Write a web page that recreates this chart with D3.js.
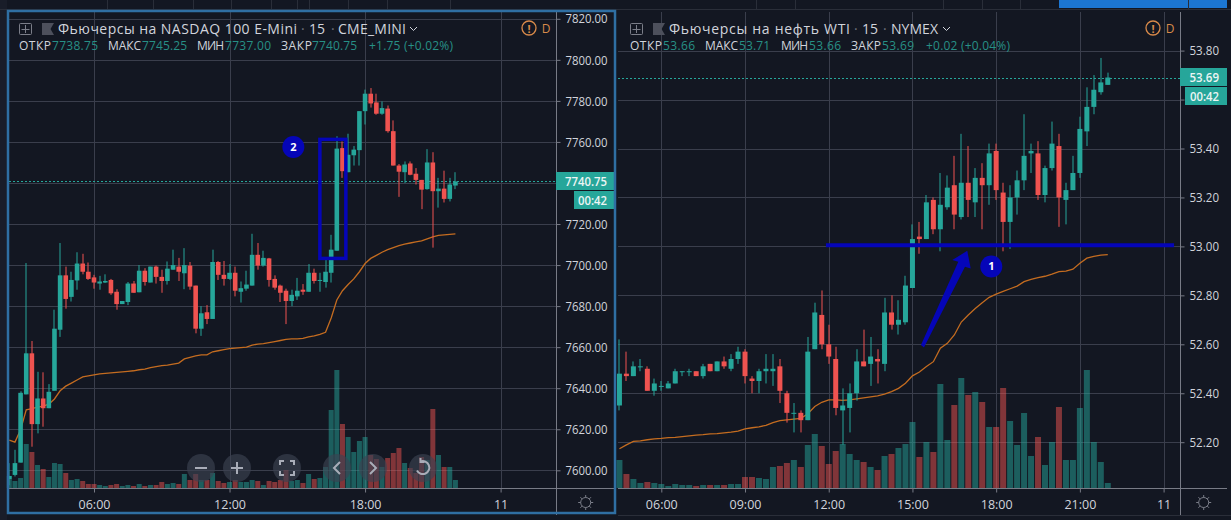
<!DOCTYPE html>
<html>
<head>
<meta charset="utf-8">
<script src="https://cdnjs.cloudflare.com/ajax/libs/d3/7.8.5/d3.min.js"></script>
<style>
html, body { margin: 0; padding: 0; background: #131722; overflow: hidden; }
text { font-family: "Open Sans", "Noto Sans", sans-serif; }
</style>
</head>
<body>
<script>
// 15 minute bars, index 0 is the 06:00 bar
var nqFirst = -15;
var nqOpen = [7595.75,7597.75,7603.75,7637,7657,7622.5,7635,7630.25,7638.75,7668.5,7695,7684.5,7692.5,7700.75,7696.75,
	7694,7691,7691.5,7692.75,7687,7681,7682,7691,7686.75,7697.25,7691.5,7699.25,7694.25,7692.25,7697.75,7699.25,7696,7699.75,7690,7669,7677,7673.75,7701.5,7695.25,
	7693.25,7696.25,7687,7688.5,7690,7705,7699.75,7703.25,7693.25,7690,7687.5,7682.5,7684.75,7688,7687,7696.25,7692.25,7691.75,7696.25,7707,7757,7745.25,7753.5,7756,
	7775,7783.5,7779.25,7773.75,7776.25,7765.25,7748.5,7745.25,7749.5,7744.5,7741.5,7737,7750,7736,7737.25,7732.25,7738.75];
var nqHigh = [7603.5,7610,7638.5,7701,7663,7648,7647.75,7642,7678.25,7710.75,7699.25,7696.75,7706.25,7705.5,7701.25,
	7695.25,7694.75,7695.5,7693.25,7688.25,7682.5,7691.75,7692.25,7700,7698.5,7699.25,7699.75,7697.75,7701.75,7707.5,7703.5,7708.25,7701.5,7690,7680,7680.5,7707.5,7702,7702,
	7700.5,7699.25,7692,7697.25,7715.25,7710.75,7707,7703.5,7695,7690.5,7688.5,7688,7693.75,7690.75,7700.5,7698.25,7696.25,7702.5,7714.75,7762.75,7760.25,7764,7758,7775,
	7785.5,7786.25,7783.5,7779.75,7777.75,7770.5,7749.25,7750.5,7750.5,7747.25,7741.5,7756.5,7755,7742.5,7746,7742.5,7745.25];
var nqLow = [7592.75,7597,7603.75,7637,7611.5,7618,7621.25,7630.25,7638.75,7665,7678.75,7682.25,7688,7695.5,7692.75,
	7688.5,7688,7691.25,7685.5,7678.25,7681,7680.5,7686.5,7686.75,7690,7691.5,7691,7686.5,7690.5,7697.75,7692.25,7688.25,7688,7666.75,7665.5,7671.25,7673.75,7692.75,7690,
	7692.75,7684.75,7681.75,7687.5,7690,7697.75,7699.25,7689.5,7688,7682,7671.25,7680,7683,7685.5,7687,7691,7687,7689,7691.5,7707,7742.5,7745.25,7748.5,7748.5,
	7768.5,7776.75,7773.25,7773.25,7764.5,7748.5,7733.25,7740,7743.75,7739.25,7727.25,7736.75,7708.5,7728,7730.5,7731,7737];
var nqClose = [7597.25,7603.5,7637.75,7657,7622.5,7635,7630.25,7638.25,7669,7695,7683.5,7692.75,7700.75,7696.75,7693.25,
	7691.5,7692,7692.25,7686.25,7681,7682.5,7691,7686.5,7697.25,7691.75,7699.25,7694.25,7692.25,7698.25,7700,7696.75,7700,7689.5,7669,7676.5,7673.75,7701.5,7695.25,7693.25,
	7696.25,7687.5,7688.75,7690.5,7705,7699.75,7703.5,7692.75,7689,7686.5,7682.5,7685.5,7687.5,7687,7696.25,7692.25,7692.75,7696.75,7707.5,7756.75,7745.75,7753.75,7756.25,7775,
	7783.5,7778.75,7773.75,7776.5,7765.25,7748.5,7745.5,7749,7744,7741.5,7736.75,7750,7736,7737.25,7732.25,7739.25,7740.75];
var nqVolume = [12,7,10,44,36,23,19,11,25,24,15,8,9,7,4,
	4,3,2,3,4,2,3,2,4,2,3,3,6,4,5,4,14,8,14,8,8,15,7,5,
	6,8,6,6,8,7,3,7,6,8,18,7,8,5,14,9,10,21,78,118,64,51,36,47,
	51,33,29,21,30,35,40,25,20,15,31,28,79,33,21,21,8];
var nqAverage = [7614.75,7613.75,7619.75,7629.5,7630,7630.75,7631.25,7632.25,7634.75,7638.75,7641,7642.5,7644,7645.5,7646,
	7646.5,7647,7647.25,7647.5,7647.75,7648,7648.25,7648.5,7649,7649.25,7650,7650.5,7651,7651.25,7651.75,7652.25,7654.25,7655,7655.75,7656.25,7656.25,7657.75,7658.25,7658.75,
	7659.25,7659.5,7659.75,7660,7661,7661.5,7661.75,7662.25,7662.75,7663.25,7663.75,7664,7664,7664.25,7665,7665.5,7666.25,7667.25,7674.25,7683,7687.5,7690.5,7693.25,7696.75,
	7700.75,7703.25,7704.75,7706.25,7707.5,7708.5,7709.5,7710.25,7710.75,7711.25,7711.75,7712.75,7713.75,7714.5,7714.75,7715,7715.25];
var nqPriceTicks = [7600,7620,7640,7660,7680,7700,7720,7740,7760,7780,7800,7820];

var clFirst = -6;
var clOpen = [52.35,52.48,52.47,52.51,52.50,52.41,
	52.43,52.42,52.44,52.49,52.49,52.49,52.47,52.52,52.49,52.53,52.50,52.54,52.57,52.46,52.45,52.49,52.49,52.51,
	52.40,52.32,52.32,52.29,52.58,52.72,52.60,52.54,52.33,52.34,52.40,52.53,52.52,52.54,52.52,52.73,52.68,52.69,
	52.83,53.04,53.03,53.19,53.07,53.16,53.25,53.12,53.26,53.18,53.28,53.25,53.39,53.22,53.10,53.20,53.27,53.38,
	53.38,53.21,53.32,53.41,53.19,53.23,53.30,53.47,53.57,53.63,53.66];
var clHigh = [52.62,52.57,52.53,52.54,52.51,52.46,
	52.45,52.45,52.50,52.49,52.50,52.49,52.52,52.52,52.53,52.55,52.56,52.59,52.58,52.47,52.50,52.56,52.56,52.54,
	52.41,52.36,52.33,52.63,52.77,52.82,52.68,52.59,52.42,52.44,52.58,52.66,52.63,52.58,52.79,52.80,52.78,52.88,
	53.09,53.10,53.21,53.20,53.30,53.29,53.37,53.46,53.41,53.32,53.34,53.42,53.42,53.26,53.25,53.31,53.54,53.42,
	53.43,53.33,53.51,53.46,53.26,53.37,53.53,53.65,53.70,53.77,53.71];
var clLow = [52.33,52.45,52.47,52.49,52.41,52.39,
	52.41,52.42,52.44,52.47,52.47,52.47,52.46,52.49,52.49,52.50,52.49,52.52,52.44,52.40,52.40,52.44,52.43,52.36,
	52.28,52.24,52.24,52.29,52.58,52.58,52.52,52.31,52.19,52.24,52.37,52.51,52.43,52.44,52.49,52.66,52.64,52.68,
	52.83,52.97,53.03,53.05,52.98,53.15,53.07,53.11,53.12,53.12,53.07,53.17,53.19,52.98,52.99,53.13,53.23,53.30,
	53.19,53.18,53.31,53.08,53.09,53.23,53.28,53.41,53.54,53.62,53.66];
var clClose = [52.48,52.47,52.51,52.51,52.41,52.44,
	52.43,52.44,52.49,52.49,52.49,52.47,52.51,52.49,52.53,52.51,52.54,52.57,52.47,52.45,52.49,52.50,52.50,52.41,
	52.32,52.32,52.29,52.57,52.73,52.60,52.55,52.34,52.35,52.40,52.53,52.51,52.55,52.53,52.73,52.68,52.70,52.84,
	53.03,53.03,53.18,53.07,53.17,53.24,53.13,53.26,53.19,53.28,53.25,53.38,53.23,53.10,53.20,53.27,53.37,53.39,
	53.21,53.32,53.42,53.20,53.23,53.30,53.48,53.57,53.64,53.67,53.69];
var clVolume = [28,14,9,5,6,5,
	4,2,4,3,3,2,3,3,3,3,4,4,11,11,10,9,21,22,
	25,28,21,43,54,42,24,37,44,34,28,26,21,18,32,34,40,44,
	66,31,46,36,104,48,83,110,93,96,86,61,61,100,67,43,75,32,
	51,23,46,81,28,28,80,118,46,26,5];
var clAverage = [52.173,52.189,52.203,52.205,52.210,52.214,
	52.216,52.219,52.220,52.223,52.226,52.229,52.231,52.234,52.235,52.238,52.241,52.245,52.254,52.259,52.263,52.269,52.280,52.288,
	52.291,52.294,52.297,52.316,52.346,52.363,52.373,52.373,52.371,52.373,52.377,52.381,52.385,52.389,52.396,52.407,52.420,52.441,
	52.471,52.487,52.509,52.529,52.584,52.604,52.638,52.691,52.720,52.746,52.770,52.792,52.805,52.816,52.827,52.838,52.856,52.865,
	52.872,52.878,52.887,52.897,52.899,52.907,52.931,52.952,52.959,52.964,52.966];
var clPriceTicks = [52.2,52.4,52.6,52.8,53.0,53.2,53.4,53.6,53.8];

var nqTimeTicks = [0,24,48,72];
var nqTimeLabels = ["06:00","12:00","18:00","11"];
var clTimeTicks = [0,12,24,36,48,60,72];
var clTimeLabels = ["06:00","09:00","12:00","15:00","18:00","21:00","11"];

var UP = "#26a69a", DOWN = "#ef5350", BLUE = "#0505b8", GRID = "#3a3e4c", AXIS = "#787b86", LABEL = "#d1d4dc", ORANGE = "#c46c20";

var svg = d3.select("body").append("svg").attr("width", 1231).attr("height", 520).style("display", "block");
svg.append("rect").attr("width", 1231).attr("height", 520).attr("fill", "#131722");

// scraps of the app chrome above the charts
var chrome = svg.append("g");
chrome.append("rect").attr("x", 0).attr("y", 0).attr("width", 7).attr("height", 520).attr("fill", "#191d29");
chrome.append("rect").attr("x", 1059).attr("y", 0).attr("width", 168).attr("height", 8).attr("fill", "#1c76d2");
chrome.append("line").attr("x1", 0).attr("x2", 1231).attr("y1", 9.5).attr("y2", 9.5).attr("stroke", "#2a2e39");
chrome.append("line").attr("x1", 618).attr("x2", 1231).attr("y1", 515.5).attr("y2", 515.5).attr("stroke", "#2a2e39");
[107,153,193,231,271,297,309,348,387,450,756,795,943,982,1020,1188].forEach(function (x) {
	chrome.append("line").attr("x1", x + 0.5).attr("x2", x + 0.5).attr("y1", 0).attr("y2", 9).attr("stroke", "#2a2e39");
});

function drawPane (p) {
	var g = svg.append("g");
	var x = d3.scaleLinear().domain([0, 72]).range(p.xRange);
	var y = d3.scaleLinear().domain(p.yDomain).range(p.yRange);
	var volume = d3.scaleLinear().domain([0, 118]).range([p.bottom, p.bottom - 118]);
	var bars = p.open.map(function (o, i) {
		return {k: i + p.first, o: o, h: p.high[i], l: p.low[i], c: p.close[i], v: p.volume[i], a: p.average[i], up: p.close[i] >= o};
	});

	// grid
	g.selectAll("line.gy").data(p.priceTicks).enter().append("line").attr("x1", p.left).attr("x2", p.right)
		.attr("y1", function (d) { return Math.round(y(d)) + 0.5; }).attr("y2", function (d) { return Math.round(y(d)) + 0.5; }).attr("stroke", GRID);
	g.selectAll("line.gx").data(p.timeTicks).enter().append("line").attr("y1", p.top).attr("y2", p.bottom)
		.attr("x1", function (d) { return Math.round(x(d)) + 0.5; }).attr("x2", function (d) { return Math.round(x(d)) + 0.5; }).attr("stroke", GRID);

	// volume
	g.selectAll("rect.vol").data(bars).enter().append("rect")
		.attr("x", function (d) { return x(d.k) - p.volWidth / 2; }).attr("width", p.volWidth)
		.attr("y", function (d) { return volume(d.v); }).attr("height", function (d) { return p.bottom - volume(d.v); })
		.attr("fill", function (d) { return d.up ? UP : DOWN; }).attr("opacity", 0.5);

	// average
	g.append("path").datum(bars).attr("fill", "none").attr("stroke", ORANGE).attr("stroke-width", 1.3)
		.attr("d", d3.line().x(function (d) { return x(d.k); }).y(function (d) { return y(d.a); }));

	// last price line
	g.append("line").attr("x1", p.left).attr("x2", p.right).attr("y1", Math.round(y(p.last)) + 0.5).attr("y2", Math.round(y(p.last)) + 0.5)
		.attr("stroke", UP).attr("stroke-dasharray", "2 2");

	// candles
	var candle = g.selectAll("g.candle").data(bars).enter().append("g").attr("fill", function (d) { return d.up ? UP : DOWN; });
	candle.append("rect").attr("x", function (d) { return Math.round(x(d.k)) - 0.5; }).attr("width", 1)
		.attr("y", function (d) { return y(d.h); }).attr("height", function (d) { return y(d.l) - y(d.h); });
	candle.append("rect").attr("x", function (d) { return x(d.k) - p.bodyWidth / 2; }).attr("width", p.bodyWidth)
		.attr("y", function (d) { return y(Math.max(d.o, d.c)); })
		.attr("height", function (d) { return Math.max(1, Math.abs(y(d.o) - y(d.c))); });

	// price axis, the tags below cover one label as in the terminal
	var yAxis = d3.axisRight(y).tickValues(p.priceTicks).tickSize(4).tickPadding(5).tickFormat(function (d) {
		return d === p.coveredTick ? "" : p.priceFormat(d);
	});
	var ya = g.append("g").attr("transform", "translate(" + (p.right + 0.5) + ",0)").call(yAxis);
	ya.select(".domain").attr("d", "M0," + p.top + "V" + (p.bottom + 27)).attr("stroke", AXIS);
	ya.selectAll("line").attr("stroke", AXIS);
	ya.selectAll("text").attr("fill", LABEL).attr("font-size", 13).attr("textLength", p.tickWidth).attr("lengthAdjust", "spacingAndGlyphs");

	// time axis
	var xAxis = d3.axisBottom(x).tickValues(p.timeTicks).tickSize(4).tickPadding(8).tickFormat(function (d, i) { return p.timeLabels[i]; });
	var xa = g.append("g").attr("transform", "translate(0," + (p.bottom + 0.5) + ")").call(xAxis);
	xa.select(".domain").attr("d", "M" + p.left + ",0H" + p.edge).attr("stroke", AXIS);
	xa.selectAll("line").attr("stroke", AXIS);
	xa.selectAll("text").attr("fill", LABEL).attr("font-size", 12.5);
	ya.selectAll("text").style("font-family", "'Open Sans', sans-serif");
	xa.selectAll("text").style("font-family", "'Open Sans', sans-serif");

	// last price and countdown tags
	g.append("rect").attr("x", p.right).attr("y", p.tagY).attr("width", p.edge - p.right).attr("height", 18).attr("fill", UP);
	g.append("text").attr("x", p.tagText).attr("y", p.tagY + 13.5).attr("text-anchor", "end").attr("fill", "#ecf5f4").attr("font-size", 13).attr("font-weight", 600)
		.attr("textLength", p.tickWidth).attr("lengthAdjust", "spacingAndGlyphs").text(p.priceFormat(p.last));
	g.append("rect").attr("x", p.timerX).attr("y", p.tagY + 19).attr("width", p.edge - p.timerX).attr("height", 18).attr("fill", UP);
	g.append("text").attr("x", p.tagText).attr("y", p.tagY + 32.5).attr("text-anchor", "end").attr("fill", "#ecf5f4").attr("font-size", 13).attr("font-weight", 600)
		.attr("textLength", 29).attr("lengthAdjust", "spacingAndGlyphs").text("00:42");

	// legend
	var box = g.append("g").attr("fill", "none").attr("stroke", "#7b7e89");
	box.append("rect").attr("x", p.head + 0.5).attr("y", 23.5).attr("width", 12).attr("height", 11).attr("rx", 1);
	box.append("path").attr("d", "M" + (p.head + 6.5) + ",25V33M" + (p.head + 2.5) + ",29.5H" + (p.head + 10.5));
	g.append("path").attr("fill", "#4d505c").attr("d", "M" + (p.head + 23) + ",23H" + (p.head + 35) + "L" + (p.head + 31.5) + ",29L" + (p.head + 35) + ",35H" + (p.head + 23) + "Z");
	p.titleParts.forEach(function (t) {
		g.append("text").attr("x", t[0]).attr("y", 33.5).attr("fill", t[2] || LABEL).attr("font-size", 14).attr("textLength", t[3]).text(t[1]);
	});
	g.append("path").attr("fill", "none").attr("stroke", LABEL).attr("d", "M" + p.chevron + ",27l3.5,3.5l3.5,-3.5");
	p.valueParts.forEach(function (t) {
		g.append("text").attr("x", t[0]).attr("y", 50).attr("fill", t[2] ? "#279086" : LABEL).attr("font-size", 12).attr("textLength", t[3]).text(t[1]);
	});
	g.append("circle").attr("cx", p.warn).attr("cy", 28).attr("r", 7).attr("fill", "none").attr("stroke", "#d98a4a").attr("stroke-width", 1.3);
	g.append("text").attr("x", p.warn).attr("y", 32.5).attr("text-anchor", "middle").attr("fill", "#d98a4a").attr("font-size", 11).attr("font-weight", 700).text("!");
	g.append("text").attr("x", p.warn + 17).attr("y", 32.5).attr("text-anchor", "middle").attr("fill", "#d98a4a").attr("font-size", 12).text("D");

	// settings gear
	var gear = g.append("g").attr("transform", "translate(" + p.gear + ",502.5)").attr("fill", "none").attr("stroke", "#7b7e89");
	gear.append("circle").attr("r", 5);
	d3.range(8).forEach(function (i) {
		var a = i * Math.PI / 4;
		gear.append("line").attr("x1", Math.cos(a) * 5).attr("y1", Math.sin(a) * 5).attr("x2", Math.cos(a) * 7.5).attr("y2", Math.sin(a) * 7.5);
	});
	return {x: x, y: y, g: g};
}

var nq = drawPane({
	first: nqFirst, open: nqOpen, high: nqHigh, low: nqLow, close: nqClose, volume: nqVolume, average: nqAverage, last: 7740.75,
	priceTicks: nqPriceTicks, coveredTick: 7740, tickWidth: 42, timeTicks: nqTimeTicks, timeLabels: nqTimeLabels, priceFormat: d3.format(".2f"),
	xRange: [94, 500.6], yDomain: [7600, 7820], yRange: [470.3, 18.8],
	left: 9, right: 556, edge: 614, top: 12, bottom: 488, bodyWidth: 4.6, volWidth: 5,
	tagY: 172, tagText: 607, timerX: 574, head: 19, warn: 529, gear: 585.7, chevron: 410,
	titleParts: [[58, "Фьючерсы на NASDAQ 100 E-Mini", null, 239], [301, "·", "#6f727c"], [309, "15", null, 16], [331, "·", "#6f727c"], [338, "CME_MINI", null, 68]],
	valueParts: [[19, "ОТКР", 0, 32], [52, "7738.75", 1, 46], [108, "МАКС", 0, 33], [142, "7745.25", 1, 45], [197, "МИН", 0, 27], [225, "7737.00", 1, 46], [281, "ЗАКР", 0, 31], [312, "7740.75", 1, 45], [369, "+1.75 (+0.02%)", 1, 84]]
});

var cl = drawPane({
	first: clFirst, open: clOpen, high: clHigh, low: clLow, close: clClose, volume: clVolume, average: clAverage, last: 53.69,
	priceTicks: clPriceTicks, coveredTick: 53.6, tickWidth: 29.5, timeTicks: clTimeTicks, timeLabels: clTimeLabels, priceFormat: d3.format(".2f"),
	xRange: [661.3, 1163.6], yDomain: [52.2, 53.8], yRange: [442.2, 50.6],
	left: 618, right: 1180, edge: 1227, top: 12, bottom: 488, bodyWidth: 5, volWidth: 6,
	tagY: 68, tagText: 1219, timerX: 1185, head: 630, warn: 1153, gear: 1203.7, chevron: 943,
	titleParts: [[669, "Фьючерсы на нефть WTI", null, 181], [854, "·", "#6f727c"], [862, "15", null, 16], [883, "·", "#6f727c"], [891, "NYMEX", null, 47]],
	valueParts: [[630, "ОТКР", 0, 32], [663, "53.66", 1, 32], [705, "МАКС", 0, 33], [739, "53.71", 1, 31], [781, "МИН", 0, 27], [809, "53.66", 1, 32], [851, "ЗАКР", 0, 30], [882, "53.69", 1, 32], [926, "+0.02 (+0.04%)", 1, 84]]
});

// selected chart frame
svg.append("rect").attr("x", 8).attr("y", 11).attr("width", 607).attr("height", 502).attr("fill", "none").attr("stroke", "#2f6fa3").attr("stroke-width", 2.5);

// drawings, anchored on bars and prices
var rectBars = [40, 44.6], rectPrices = [7761.25, 7703.25];
nq.g.append("rect").attr("x", nq.x(rectBars[0])).attr("width", nq.x(rectBars[1]) - nq.x(rectBars[0]))
	.attr("y", nq.y(rectPrices[0])).attr("height", nq.y(rectPrices[1]) - nq.y(rectPrices[0]))
	.attr("fill", "none").attr("stroke", BLUE).attr("stroke-width", 3.5);

var lineBars = [23.6, 73.5], linePrice = 53.005;
cl.g.append("line").attr("x1", cl.x(lineBars[0])).attr("x2", cl.x(lineBars[1])).attr("y1", cl.y(linePrice)).attr("y2", cl.y(linePrice))
	.attr("stroke", BLUE).attr("stroke-width", 4);

// arrow outline, tail to tip and back
var arrowBars = [37.22, 42.57, 41.71, 43.86, 44.35, 43.53, 37.65];
var arrowPrices = [52.597, 52.937, 52.944, 52.982, 52.910, 52.917, 52.587];
cl.g.append("path").datum(arrowBars).attr("fill", BLUE)
	.attr("d", d3.line().x(function (d) { return cl.x(d); }).y(function (d, i) { return cl.y(arrowPrices[i]); }));

function badge (pane, bar, price, label) {
	pane.g.append("circle").attr("cx", pane.x(bar)).attr("cy", pane.y(price)).attr("r", 11).attr("fill", BLUE);
	pane.g.append("text").attr("x", pane.x(bar)).attr("y", pane.y(price) + 4).attr("text-anchor", "middle").attr("fill", "#fff")
		.attr("font-size", 11).attr("font-weight", 700).text(label);
}
badge(nq, 35.3, 7757.5, "2");
badge(cl, 47.3, 52.918, "1");

// floating zoom and scroll buttons
var navX = [201, 237, 287, 337, 373, 423];
var nav = svg.selectAll("g.nav").data(navX).enter().append("g").attr("transform", function (d) { return "translate(" + d + ",468)"; });
nav.append("circle").attr("r", 14).attr("fill", "#3c4252").attr("opacity", 0.65);
var navGlyphs = [
	"M-6,0H6",
	"M-6,0H6M0,-6V6",
	"M-7,-3V-7H-3M3,-7H7V-3M7,3V7H3M-3,7H-7V3",
	"M3,-6L-3,0L3,6",
	"M-3,-6L3,0L-3,6",
	"M-2.5,-6.5A6.5,6.5 0 1 1 -6,2.5M-2.5,-10V-6H1.5"
];
navGlyphs.forEach(function (d, i) {
	d3.select(nav.nodes()[i]).append("path").attr("d", d).attr("fill", "none").attr("stroke", "#a9adb8").attr("stroke-width", 2);
});
</script>
</body>
</html>
